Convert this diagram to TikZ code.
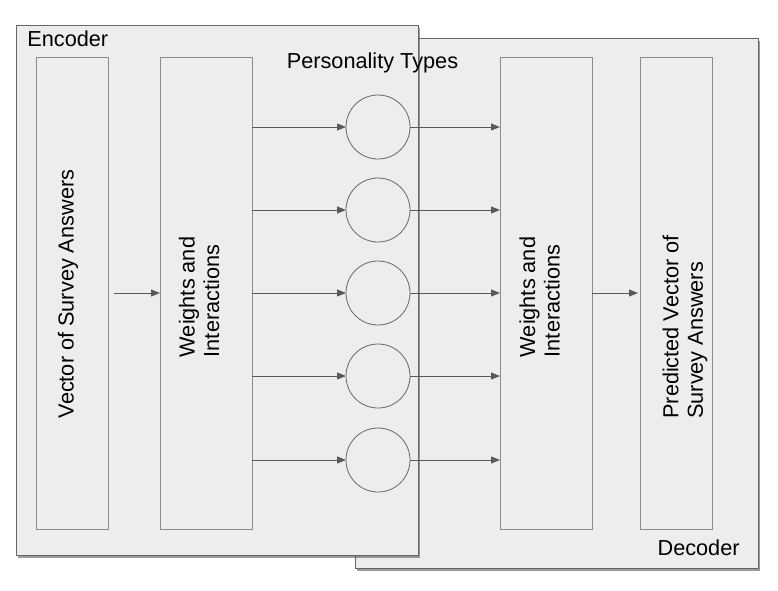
\documentclass[tikz,border=0pt]{standalone}
\usepackage{fontspec}
\setmainfont{Liberation Sans}
\usetikzlibrary{calc,positioning,shapes,shadows,arrows.meta}

\begin{document}
\begin{tikzpicture}[
  x=1pt, y=-1pt,
  thick,
  panel/.style={
    rectangle,
    fill=black!7,
    draw=black!60,
    line width=1pt,
    minimum height=530pt, minimum width=402pt,
    outer sep=0pt,
    drop shadow={shadow xshift=1.5pt, shadow yshift=-2.5pt, opacity=0.55, fill=black!70}
  },
  layer/.style={
    rectangle,
    fill=black!7,
    draw=black!45,
    line width=1pt,
    minimum height=472pt,
    outer sep=0pt
  },
  layer text/.style={
    rotate=90,
    align=left,
    inner sep=0pt,
    font=\fontsize{21.7}{24.5}\selectfont
  },
  type/.style={
    circle,
    fill=black!7,
    draw=black!60,
    line width=0.8pt,
    minimum size=64pt,
    inner sep=0pt,
    outer sep=0pt
  },
  link/.style={
    ->,
    >={Triangle[length=9pt,width=7pt]},
    draw=black!65,
    line width=1pt
  },
  label/.style={
    font=\fontsize{21.7}{24}\selectfont,
    inner sep=0pt
  }
  ]
\useasboundingbox (0,0) rectangle (778,590);
% Panels
\node [panel, minimum width=403pt] (decoder) at (556.5,303) {};
\node [panel] (encoder) at (217,290) {};
\node [label, anchor=west] (encoder label) at (27,39) {Encoder};
\node [label, anchor=east] (decoder label) at (740,548) {Decoder};
\node [label] (types label) at (372.5,63) {Personality Types};
% Encoder
\node [layer, minimum width=72pt] (survey) at (72,293) {};
\node [layer text] (survey text) at (68,294) {Vector of Survey Answers};
\node [layer, minimum width=92pt] (weights enc) at (206,293) {};
\node [layer text] (weights enc text) at (199,297) {Weights and\\Interactions};
% Personality Types
\node [type] (type 1) at (378,127) {};
\node [type] (type 2) at (378,210) {};
\node [type] (type 3) at (378,293) {};
\node [type] (type 4) at (378,376) {};
\node [type] (type 5) at (378,460) {};
% Decoder
\node [layer, minimum width=92pt] (weights dec) at (546,293) {};
\node [layer text] (weights dec text) at (539.5,297) {Weights and\\Interactions};
\node [layer, minimum width=72pt] (predicted) at (676,293) {};
\node [layer text] (predicted text) at (685,327) {Predicted Vector of\\Survey Answers};
% Connections
\draw [link, shorten <=6pt] (survey.east) -- (weights enc.west);
\draw [link] (weights enc.east |- type 1) -- (type 1.west);
\draw [link] (weights enc.east |- type 2) -- (type 2.west);
\draw [link] (weights enc.east |- type 3) -- (type 3.west);
\draw [link] (weights enc.east |- type 4) -- (type 4.west);
\draw [link] (weights enc.east |- type 5) -- (type 5.west);
\draw [link] (type 1.east) -- (weights dec.west |- type 1);
\draw [link] (type 2.east) -- (weights dec.west |- type 2);
\draw [link] (type 3.east) -- (weights dec.west |- type 3);
\draw [link] (type 4.east) -- (weights dec.west |- type 4);
\draw [link] (type 5.east) -- (weights dec.west |- type 5);
\draw [link, shorten >=2pt] (weights dec.east) -- (predicted.west);
\end{tikzpicture}
\end{document}
